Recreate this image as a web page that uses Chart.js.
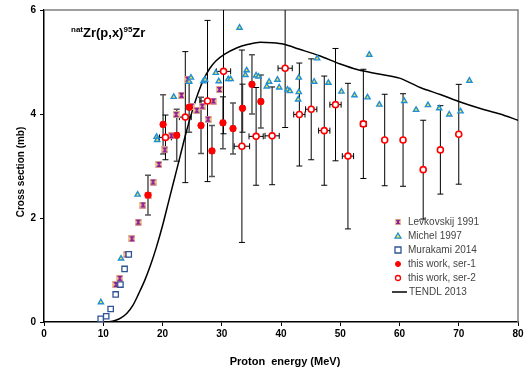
<!DOCTYPE html>
<html>
<head>
<meta charset="utf-8">
<script src="https://cdn.jsdelivr.net/npm/chart.js@4.4.1/dist/chart.umd.min.js"></script>
<style>
  html, body { margin: 0; padding: 0; background: #fff; }
</style>
</head>
<body>
<canvas id="chart" width="529" height="374"></canvas>
<script>
// Levkovskij 1991
const levkE = [12.15, 12.8, 14.0, 14.85, 15.9, 16.7, 17.6, 18.4, 19.4, 20.4, 21.5, 22.3, 23.2, 24.25, 24.9, 25.8, 26.7, 27.7, 28.6, 29.6];
const levkS = [0.72, 0.84, 1.30, 1.60, 1.92, 2.25, 2.44, 2.69, 3.03, 3.31, 3.58, 3.99, 4.36, 4.67, 4.15, 4.07, 4.15, 3.90, 4.25, 4.47];

// Michel 1997
const michE = [9.6, 13.0, 15.8, 19.0, 19.1, 21.9, 24.5, 24.8, 26.9, 27.2, 29.0, 29.5, 31.1, 31.5, 33.0, 34.0, 34.2, 35.8, 36.2, 37.6, 38.0, 39.4, 39.7, 41.1, 41.5, 42.9, 43.0, 43.0, 45.6, 46.1, 48.0, 50.2, 52.4, 54.6, 54.9, 56.6, 60.8, 62.8, 64.8, 66.7, 68.4, 70.3, 71.8];
const michS = [0.38, 1.22, 2.45, 3.56, 3.50, 4.33, 4.62, 4.70, 4.63, 4.66, 4.79, 4.63, 4.67, 4.67, 5.66, 4.75, 4.84, 4.74, 4.72, 4.53, 4.62, 4.66, 4.51, 4.47, 4.44, 4.28, 4.70, 4.42, 4.62, 5.07, 4.60, 4.43, 4.36, 4.32, 5.14, 4.18, 4.25, 4.08, 4.17, 4.11, 3.99, 4.05, 4.64];

// Murakami 2014
const muraE = [9.57, 10.5, 11.25, 12.1, 12.9, 13.6, 14.3];
const muraS = [0.06, 0.11, 0.25, 0.53, 0.72, 1.02, 1.30];

// this work, ser-1
const ser1E = [17.55, 20.1, 22.4, 24.5, 26.5, 28.35, 30.2, 31.9, 33.5, 35.1, 36.6];
const ser1S = [2.44, 3.80, 3.59, 4.13, 3.78, 3.29, 3.83, 3.72, 4.11, 4.57, 4.24];
const ser1dS = [0.38, 0.57, 0.50, 0.48, 0.54, 0.49, 0.50, 0.49, 0.46, 0.57, 0.51];
const ser1dE = [0.4, 0.3, 0.3, 0.3, 0.3, 0.3, 0.3, 0.3, 0.3, 0.3, 0.3];

// this work, ser-2
const ser2E = [20.5, 23.85, 27.6, 30.3, 33.4, 35.8, 38.5, 40.7, 43.1, 45.1, 47.3, 49.2, 51.3, 53.9, 57.5, 60.6, 64.0, 66.9, 70.0];
const ser2S = [3.55, 3.94, 4.25, 4.82, 3.38, 3.57, 3.58, 4.88, 3.99, 4.09, 3.68, 4.18, 3.19, 3.81, 3.50, 3.50, 2.93, 3.31, 3.61];
const ser2dS = [0.43, 1.26, 1.55, 1.20, 1.85, 0.94, 0.94, 1.14, 0.99, 0.97, 1.05, 1.08, 1.40, 1.05, 0.88, 0.89, 0.95, 0.85, 0.96];
const ser2dE = [1.0, 1.0, 1.3, 1.2, 1.3, 1.2, 1.2, 1.2, 0.95, 0.95, 0.95, 0.95, 0.95, 0.5, 0.3, 0.3, 0, 0, 0];

// TENDL 2013
const tendlE = [1, 5, 10, 11, 12, 13, 14, 15, 16, 17, 18, 19, 20, 21, 22, 23, 24, 25, 26, 27, 28, 29, 30.5, 32.5, 34.5, 36.5, 38.5, 40.5, 43, 46.5, 50, 53, 56.5, 60, 63.5, 67, 70, 73.5, 77, 80];
const tendlS = [0, 0, 0, 0.005, 0.03, 0.08, 0.17, 0.32, 0.55, 0.8, 1.1, 1.45, 1.85, 2.3, 2.75, 3.2, 3.65, 4.05, 4.4, 4.68, 4.88, 5.02, 5.15, 5.27, 5.34, 5.38, 5.37, 5.34, 5.25, 5.12, 4.96, 4.85, 4.77, 4.69, 4.51, 4.37, 4.24, 4.11, 4.0, 3.88];

const xTicks = [0, 10, 20, 30, 40, 50, 60, 70, 80];
const yTicks = [0, 2, 4, 6];

const FONT = 'Liberation Sans, Arial, sans-serif';

function toPoints(xs, ys) {
    return xs.map((v, i) => ({ x: v, y: ys[i] }));
}

// purple hourglass on a pale square, like the Levkovskij symbol
function levkMarker(size) {
    const c = document.createElement('canvas');
    c.width = size; c.height = size;
    const g = c.getContext('2d');
    const m = size / 2;
    g.fillStyle = '#f0c890';
    g.fillRect(0, 0, size, size);
    g.fillStyle = '#8a1c9a';
    g.beginPath();
    g.moveTo(0.5, 0.8); g.lineTo(size - 0.5, 0.8); g.lineTo(m + 0.8, m);
    g.lineTo(size - 0.5, size - 0.8); g.lineTo(0.5, size - 0.8); g.lineTo(m - 0.8, m);
    g.closePath();
    g.fill();
    return c;
}

const levkImg = levkMarker(7);

const datasets = [
    {
        label: 'TENDL 2013',
        data: toPoints(tendlE, tendlS),
        showLine: true,
        borderColor: '#000',
        borderWidth: 1.5,
        pointRadius: 0,
        cubicInterpolationMode: 'monotone',
        order: 6
    },
    {
        label: 'Levkovskij 1991',
        data: toPoints(levkE, levkS),
        pointStyle: levkImg,
        pointRadius: 3.5,
        order: 5
    },
    {
        label: 'Michel 1997',
        data: toPoints(michE, michS),
        pointStyle: 'triangle',
        pointRadius: 3,
        backgroundColor: '#f5e642',
        borderColor: '#1f8fd6',
        borderWidth: 1.4,
        order: 4
    },
    {
        label: 'Murakami 2014',
        data: toPoints(muraE, muraS),
        pointStyle: 'rect',
        pointRadius: 3.8,
        backgroundColor: '#fff',
        borderColor: '#2f5597',
        borderWidth: 1.3,
        order: 3
    },
    {
        label: 'this work, ser-1',
        data: toPoints(ser1E, ser1S),
        pointStyle: 'circle',
        pointRadius: 3.2,
        backgroundColor: '#ff0000',
        borderColor: '#ff0000',
        borderWidth: 1,
        errY: ser1dS,
        errX: ser1dE,
        errColor: '#555',
        errWidth: 1.5,
        order: 2
    },
    {
        label: 'this work, ser-2',
        data: toPoints(ser2E, ser2S),
        pointStyle: 'circle',
        pointRadius: 3,
        backgroundColor: '#fff',
        borderColor: '#ff0000',
        borderWidth: 1.6,
        errY: ser2dS,
        errX: ser2dE,
        errColor: '#000',
        errWidth: 1,
        order: 1
    }
];

// Error bars drawn under the markers
const errorBars = {
    id: 'errorBars',
    beforeDatasetsDraw(chart) {
        const { ctx, chartArea, scales: { x, y } } = chart;
        ctx.save();
        ctx.beginPath();
        ctx.rect(chartArea.left, chartArea.top, chartArea.width, chartArea.height);
        ctx.clip();
        chart.data.datasets.forEach(ds => {
            if (!ds.errY) return;
            ctx.strokeStyle = ds.errColor;
            ctx.lineWidth = ds.errWidth;
            ds.data.forEach((p, i) => {
                const px = x.getPixelForValue(p.x);
                const py = y.getPixelForValue(p.y);
                const yTop = y.getPixelForValue(p.y + ds.errY[i]);
                const yBot = y.getPixelForValue(p.y - ds.errY[i]);
                ctx.beginPath();
                ctx.moveTo(px, yTop); ctx.lineTo(px, yBot);
                ctx.moveTo(px - 3, yTop); ctx.lineTo(px + 3, yTop);
                ctx.moveTo(px - 3, yBot); ctx.lineTo(px + 3, yBot);
                const dx = ds.errX[i];
                if (dx > 0) {
                    const xl = x.getPixelForValue(p.x - dx);
                    const xr = x.getPixelForValue(p.x + dx);
                    ctx.moveTo(xl, py); ctx.lineTo(xr, py);
                    ctx.moveTo(xl, py - 3); ctx.lineTo(xl, py + 3);
                    ctx.moveTo(xr, py - 3); ctx.lineTo(xr, py + 3);
                }
                ctx.stroke();
            });
        });
        ctx.restore();
    }
};

// Grey frame on top and right
const frame = {
    id: 'frame',
    beforeDatasetsDraw(chart) {
        const { ctx, chartArea: a } = chart;
        ctx.save();
        ctx.strokeStyle = '#808080';
        ctx.lineWidth = 1.5;
        ctx.beginPath();
        ctx.moveTo(a.left, a.top);
        ctx.lineTo(a.right, a.top);
        ctx.lineTo(a.right, a.bottom);
        ctx.stroke();
        ctx.restore();
    }
};

// Axis titles, reaction label and legend
const annotations = {
    id: 'annotations',
    afterDraw(chart) {
        const ctx = chart.ctx;
        ctx.save();
        ctx.fillStyle = '#000';

        // axis titles
        ctx.font = 'bold 11px ' + FONT;
        ctx.textAlign = 'center';
        ctx.textBaseline = 'middle';
        ctx.fillText('Proton  energy (MeV)', 285, 362);
        ctx.save();
        ctx.translate(21, 172);
        ctx.rotate(-Math.PI / 2);
        ctx.font = 'bold 10px ' + FONT;
        ctx.fillText('Cross section (mb)', 0, 0);
        ctx.restore();

        // reaction label with superscripts
        ctx.textBaseline = 'alphabetic';
        ctx.textAlign = 'left';
        let tx = 71;
        const base = 37;
        const parts = [
            ['nat', 8, -5], ['Zr(p,x)', 13, 0], ['95', 8, -5], ['Zr', 13, 0]
        ];
        parts.forEach(([t, size, dy]) => {
            ctx.font = 'bold ' + size + 'px ' + FONT;
            ctx.fillText(t, tx, base + dy);
            tx += ctx.measureText(t).width;
        });

        // legend
        const order = ['Levkovskij 1991', 'Michel 1997', 'Murakami 2014', 'this work, ser-1', 'this work, ser-2', 'TENDL 2013'];
        ctx.font = '10px ' + FONT;
        ctx.textBaseline = 'middle';
        order.forEach((name, i) => {
            const ds = chart.data.datasets.find(d => d.label === name);
            const ly = 222 + i * 14;
            if (name === 'TENDL 2013') {
                ctx.strokeStyle = '#000';
                ctx.lineWidth = 1.5;
                ctx.beginPath();
                ctx.moveTo(392, ly);
                ctx.lineTo(407, ly);
                ctx.stroke();
            } else if (typeof ds.pointStyle !== 'string') {
                ctx.drawImage(levkMarker(6), 395, ly - 3);
            } else {
                ctx.fillStyle = ds.backgroundColor;
                ctx.strokeStyle = ds.borderColor;
                ctx.lineWidth = Math.min(ds.borderWidth, 1.3);
                ctx.beginPath();
                if (ds.pointStyle === 'rect') {
                    ctx.rect(395, ly - 3, 6, 6);
                } else if (ds.pointStyle === 'triangle') {
                    ctx.moveTo(398, ly - 3);
                    ctx.lineTo(401, ly + 2.2);
                    ctx.lineTo(395, ly + 2.2);
                    ctx.closePath();
                } else {
                    ctx.arc(398, ly, 2.5, 0, Math.PI * 2);
                }
                ctx.fill();
                ctx.stroke();
            }
            ctx.fillStyle = '#444';
            ctx.fillText(name, name === 'TENDL 2013' ? 409 : 408, ly + 0.5);
        });
        ctx.restore();
    }
};

new Chart(document.getElementById('chart'), {
    type: 'scatter',
    data: { datasets },
    options: {
        responsive: false,
        animation: false,
        layout: { padding: { top: 7, right: 11, left: 0, bottom: 0 } },
        plugins: {
            legend: { display: false },
            tooltip: { enabled: false }
        },
        scales: {
            x: {
                type: 'linear',
                min: 0,
                max: 80,
                afterFit: s => { s.height = 52; },
                afterBuildTicks: s => { s.ticks = xTicks.map(v => ({ value: v })); },
                ticks: {
                    color: '#000',
                    padding: 2,
                    font: { family: FONT, size: 10, weight: 'bold' }
                },
                grid: { drawOnChartArea: false, drawTicks: true, tickLength: 4, color: '#000' },
                border: { display: true, color: '#000', width: 1.5 }
            },
            y: {
                type: 'linear',
                min: 0,
                max: 6,
                afterFit: s => { s.width = 44; },
                afterBuildTicks: s => { s.ticks = yTicks.map(v => ({ value: v })); },
                ticks: {
                    color: '#000',
                    padding: 4,
                    font: { family: FONT, size: 10, weight: 'bold' }
                },
                grid: { drawOnChartArea: false, drawTicks: true, tickLength: 4, color: '#000' },
                border: { display: true, color: '#000', width: 1.5 }
            }
        }
    },
    plugins: [frame, errorBars, annotations]
});
</script>
</body>
</html>
